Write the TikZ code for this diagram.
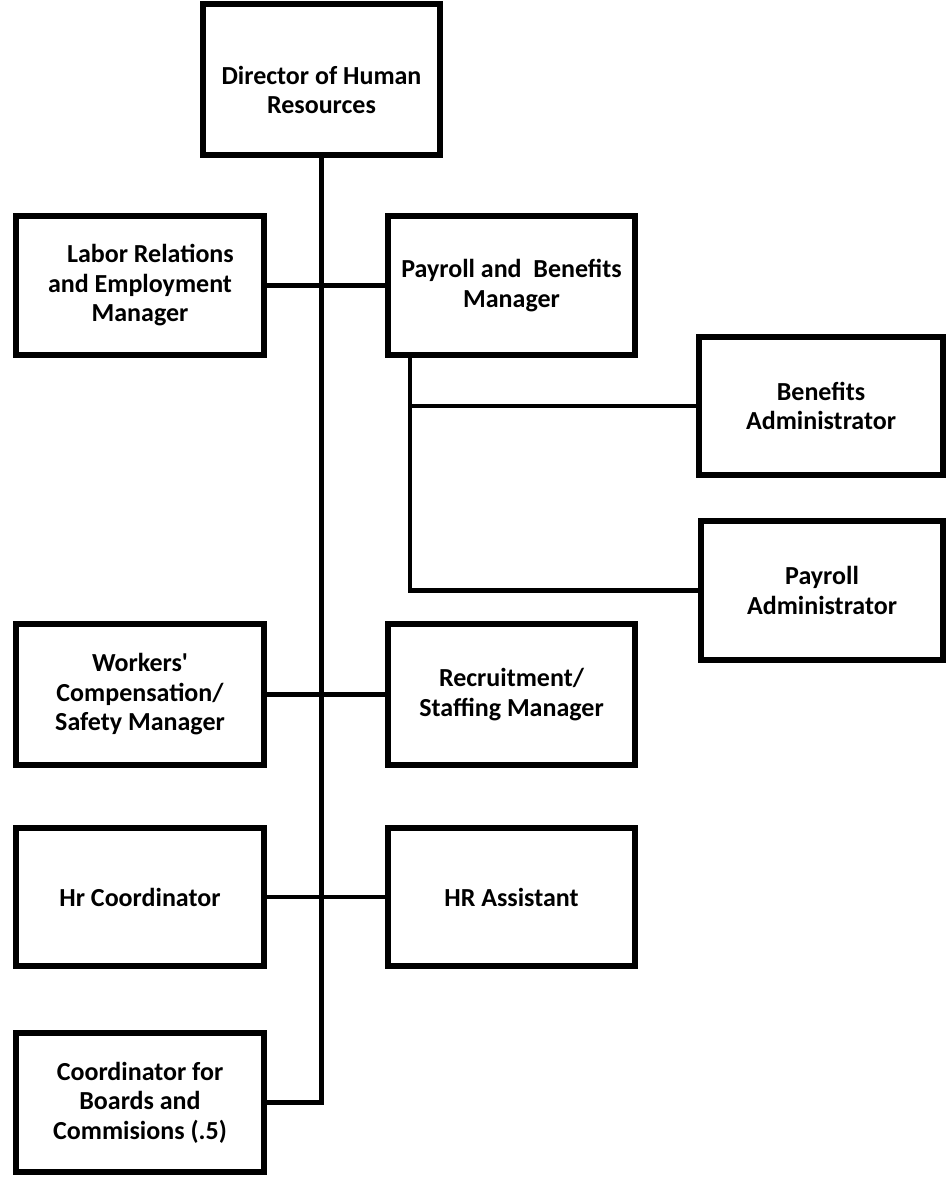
\documentclass[tikz,border=0pt]{standalone}
\usepackage{fontspec}
\setmainfont{Carlito}
\usetikzlibrary{shadows}
\tikzset{
  box/.style={draw=black, line width=6pt, fill=white, rectangle, minimum width=248pt, minimum height=139pt,
    align=center, font=\fontsize{26}{29.5}\selectfont\bfseries, inner sep=0pt,
    drop shadow={shadow xshift=2pt, shadow yshift=-2pt, opacity=0.25, fill=black}},
  lbl/.style={align=center, font=\fontsize{26}{29.5}\selectfont\bfseries, inner sep=0pt},
  conn/.style={draw=black, line width=4.5pt}
}
\begin{document}
\begin{tikzpicture}[x=1pt,y=-1pt]
\useasboundingbox (0,0) rectangle (949,1178);
% boxes
\node[box, minimum width=237pt, minimum height=151pt] (dir) at (321.5,79.5) {};
\node[lbl] (dirt) at (321.5,90) {Director of Human\\Resources};
\node[box] (lab) at (140,285.5) {\hspace*{0.8em}Labor Relations\\and Employment\\Manager};
\node[box, minimum width=247pt] (pay) at (511.5,285.5) {Payroll and\ \ Benefits\\Manager};
\node[box, minimum width=244pt, minimum height=138pt] (ben) at (821,406) {Benefits\\Administrator};
\node[box, minimum width=242pt] (padm) at (822,590.5) {Payroll\\Administrator};
\node[box, minimum height=141pt] (wrk) at (140,694.5) {Workers\textquotesingle\\Compensation/\\Safety Manager};
\node[box, minimum width=247pt, minimum height=141pt] (rec) at (511.5,694.5) {Recruitment/\\Staffing Manager};
\node[box, minimum height=138pt] (hrc) at (140,897) {Hr Coordinator};
\node[box, minimum width=247pt, minimum height=138pt] (hra) at (511.5,897) {HR Assistant};
\node[box] (cbc) at (140,1102.5) {Coordinator for\\Boards and\\Commisions (.5)};
% connectors
\draw[conn] (dir.south) |- (cbc.east);
\draw[conn] (lab.east) -- (pay.west);
\draw[conn] (wrk.east) -- (rec.west);
\draw[conn] (hrc.east) -- (hra.west);
\coordinate (pb) at ([xshift=25pt]pay.south west);
\draw[conn] (pb) |- (padm.west);
\draw[conn] (pb |- ben.west) -- (ben.west);
\end{tikzpicture}
\end{document}
